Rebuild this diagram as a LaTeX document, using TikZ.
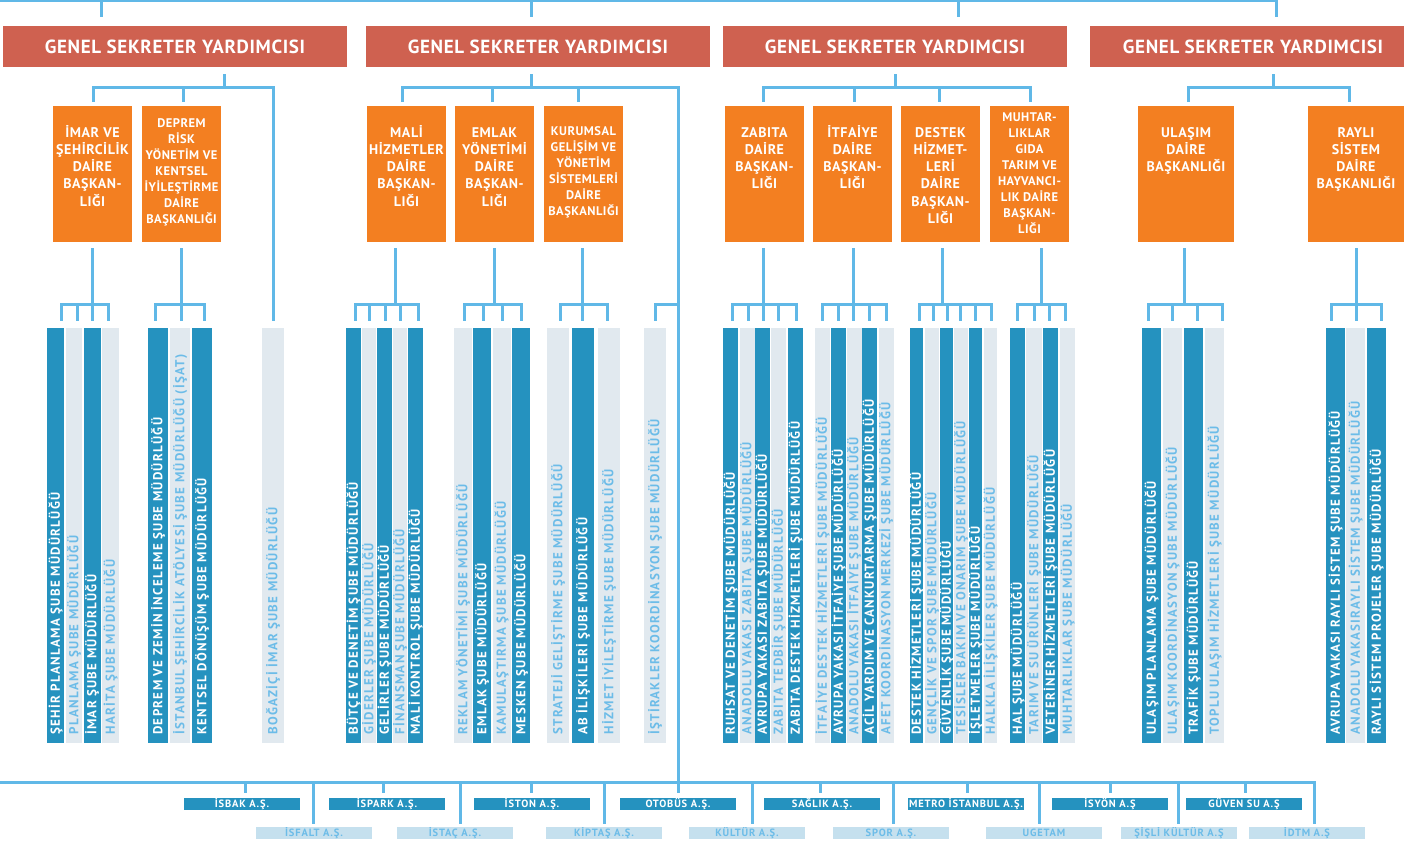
\documentclass[tikz,border=0pt]{standalone}
\usepackage{fontspec}
\setmainfont{PT Sans}
\newfontfamily\titlefam[LetterSpace=3.5]{PT Sans}
\newfontfamily\boxfam[LetterSpace=4]{PT Sans}
\newfontfamily\barfam[LetterSpace=10]{PT Sans}
\newfontfamily\cofam[LetterSpace=8]{PT Sans}
\definecolor{redc}{RGB}{207,97,80}
\definecolor{orc}{RGB}{243,127,33}
\definecolor{dkc}{RGB}{37,146,191}
\definecolor{ltc}{RGB}{225,233,239}
\definecolor{lttext}{RGB}{108,188,232}
\definecolor{lineblue}{RGB}{96,184,231}
\definecolor{lcoc}{RGB}{197,224,238}
\tikzset{
  conn/.style={draw=lineblue, line width=3pt},
  redbox/.style={fill=redc, text=white, minimum height=41pt, inner sep=0pt,
    font=\titlefam\bfseries\fontsize{19}{22}\selectfont},
  orbox/.style={fill=orc, minimum height=136pt, inner sep=0pt},
  ortext/.style={anchor=north, align=center, text=white, inner sep=0pt,
    font=\boxfam\bfseries\fontsize{14}{17.3}\selectfont},
  ortextsm/.style={ortext, font=\boxfam\bfseries\fontsize{12.5}{16}\selectfont},
  barbase/.style={rotate=90, inner xsep=8pt, inner ysep=0pt, text width=398.7pt,
    align=left, text height=9.5pt, text depth=1pt,
    font=\barfam\bfseries\fontsize{13}{15}\selectfont},
  dbar/.style={barbase, fill=dkc, text=white},
  lbar/.style={barbase, fill=ltc, text=lttext},
  cobase/.style={minimum width=116pt, minimum height=12pt, inner sep=0pt,
    text height=7.3pt, text depth=0pt, font=\cofam\bfseries\fontsize{10.5}{12}\selectfont},
  dco/.style={cobase, fill=dkc, text=white},
  lco/.style={cobase, fill=lcoc, text=lttext},
}
\newcommand\barnode[5]{\node[#1, minimum height=#4pt] (#2) at (#3,535.35) {#5};}
% #1 parent, #2 junction, #3 child/x list, #4 gap at parent, #5 gap at child, #6 child anchor
\newcommand\subtree[6]{%
  \draw[conn, shorten <=#4] (#1.south -| #2) -- (#2);
  \foreach \k/\x in {#3} {\draw[conn, shorten >=#5] (#2) -| (\k.#6 -| \x,0);}
}
\begin{document}
\begin{tikzpicture}[x=1pt,y=-1pt]
\useasboundingbox[fill=white] (0,0) rectangle (1408,842);

% Genel sekreter yardimcisi
\node[redbox, minimum width=344pt] (r1) at (175,46.5) {GENEL SEKRETER YARDIMCISI};
\node[redbox, minimum width=344pt] (r2) at (538,46.5) {GENEL SEKRETER YARDIMCISI};
\node[redbox, minimum width=344pt] (r3) at (895,46.5) {GENEL SEKRETER YARDIMCISI};
\node[redbox, minimum width=314pt] (r4) at (1247,46.5) {\hspace*{12pt}GENEL SEKRETER YARDIMCISI};

% Daire baskanliklari
\node[orbox, minimum width=79pt] (o1) at (92.5,174) {};
\node[orbox, minimum width=79pt] (o2) at (181.5,174) {};
\node[orbox, minimum width=79pt] (o3) at (406.5,174) {};
\node[orbox, minimum width=79pt] (o4) at (494.5,174) {};
\node[orbox, minimum width=79pt] (o5) at (583.5,174) {};
\node[orbox, minimum width=79pt] (o6) at (764.5,174) {};
\node[orbox, minimum width=79pt] (o7) at (852.5,174) {};
\node[orbox, minimum width=79pt] (o8) at (940.5,174) {};
\node[orbox, minimum width=79pt] (o9) at (1029.5,174) {};
\node[orbox, minimum width=96pt] (o10) at (1186,174) {};
\node[orbox, minimum width=96pt] (o11) at (1356,174) {};

\node[ortext] (t1) at (92.5,124.8) {\vphantom{İ}İMAR VE\\ŞEHİRCİLİK\\DAİRE\\BAŞKAN-\\LIĞI};
\node[ortextsm] (t2) at (181.5,117) {\vphantom{İ}DEPREM\\RİSK\\YÖNETİM VE\\KENTSEL\\İYİLEŞTİRME\\DAİRE\\BAŞKANLIĞI};
\node[ortext] (t3) at (406.5,124.8) {\vphantom{İ}MALİ\\HİZMETLER\\DAİRE\\BAŞKAN-\\LIĞI};
\node[ortext] (t4) at (494.5,124.8) {\vphantom{İ}EMLAK\\YÖNETİMİ\\DAİRE\\BAŞKAN-\\LIĞI};
\node[ortextsm] (t5) at (583.5,125) {\vphantom{İ}KURUMSAL\\GELİŞİM VE\\YÖNETİM\\SİSTEMLERİ\\DAİRE\\BAŞKANLIĞI};
\node[ortext] (t6) at (764.5,124.8) {\vphantom{İ}ZABITA\\DAİRE\\BAŞKAN-\\LIĞI};
\node[ortext] (t7) at (852.5,124.8) {\vphantom{İ}İTFAİYE\\DAİRE\\BAŞKAN-\\LIĞI};
\node[ortext] (t8) at (940.5,124.8) {\vphantom{İ}DESTEK\\HİZMET-\\LERİ\\DAİRE\\BAŞKAN-\\LIĞI};
\node[ortextsm] (t9) at (1029.5,111) {\vphantom{İ}MUHTAR-\\LIKLAR\\GIDA\\TARIM VE\\HAYVANCI-\\LIK DAİRE\\BAŞKAN-\\LIĞI};
\node[ortext] (t10) at (1186,124.8) {\vphantom{İ}ULAŞIM\\DAİRE\\BAŞKANLIĞI};
\node[ortext] (t11) at (1356,124.8) {\vphantom{İ}RAYLI\\SİSTEM\\DAİRE\\BAŞKANLIĞI};

% Sube mudurlukleri
\barnode{dbar}{a1}{55.5}{17}{ŞEHİR PLANLAMA ŞUBE MÜDÜRLÜĞÜ}
\barnode{lbar}{a2}{74}{16}{PLANLAMA ŞUBE MÜDÜRLÜĞÜ}
\barnode{dbar}{a3}{92}{17}{İMAR ŞUBE MÜDÜRLÜĞÜ}
\barnode{lbar}{a4}{110.5}{17}{HARİTA ŞUBE MÜDÜRLÜĞÜ}
\barnode{dbar}{d1}{158}{20}{DEPREM VE ZEMİN İNCELEME ŞUBE MÜDÜRLÜĞÜ}
\barnode{lbar}{d2}{180}{20}{İSTANBUL ŞEHİRCİLİK ATÖLYESİ ŞUBE MÜDÜRLÜĞÜ (İŞAT)}
\barnode{dbar}{d3}{202}{20}{KENTSEL DÖNÜŞÜM ŞUBE MÜDÜRLÜĞÜ}
\barnode{lbar}{bog}{273}{22}{BOĞAZİÇİ İMAR ŞUBE MÜDÜRLÜĞÜ}

\barnode{dbar}{m1}{353.5}{14.6}{BÜTÇE VE DENETİM ŞUBE MÜDÜRLÜĞÜ}
\barnode{lbar}{m2}{369}{14.6}{GİDERLER ŞUBE MÜDÜRLÜĞÜ}
\barnode{dbar}{m3}{384.5}{14.6}{GELİRLER ŞUBE MÜDÜRLÜĞÜ}
\barnode{lbar}{m4}{400}{14.6}{FİNANSMAN ŞUBE MÜDÜRLÜĞÜ}
\barnode{dbar}{m5}{415.5}{14.6}{MALİ KONTROL ŞUBE MÜDÜRLÜĞÜ}
\barnode{lbar}{e1}{463}{18}{REKLAM YÖNETİMİ ŞUBE MÜDÜRLÜĞÜ}
\barnode{dbar}{e2}{482}{18}{EMLAK ŞUBE MÜDÜRLÜĞÜ}
\barnode{lbar}{e3}{501.5}{18}{KAMULAŞTIRMA ŞUBE MÜDÜRLÜĞÜ}
\barnode{dbar}{e4}{521}{18}{MESKEN ŞUBE MÜDÜRLÜĞÜ}
\barnode{lbar}{k1}{558}{22}{STRATEJİ GELİŞTİRME ŞUBE MÜDÜRLÜĞÜ}
\barnode{dbar}{k2}{583}{22}{AB İLİŞKİLERİ ŞUBE MÜDÜRLÜĞÜ}
\barnode{lbar}{k3}{609}{22}{HİZMET İYİLEŞTİRME ŞUBE MÜDÜRLÜĞÜ}
\barnode{lbar}{ist}{655}{22}{İŞTİRAKLER KOORDİNASYON ŞUBE MÜDÜRLÜĞÜ}

\barnode{dbar}{z1}{730.5}{15}{RUHSAT VE DENETİM ŞUBE MÜDÜRLÜĞÜ}
\barnode{lbar}{z2}{747}{15}{ANADOLU YAKASI ZABITA ŞUBE MÜDÜRLÜĞÜ}
\barnode{dbar}{z3}{762.5}{15}{AVRUPA YAKASI ZABITA ŞUBE MÜDÜRLÜĞÜ}
\barnode{lbar}{z4}{778.5}{15}{ZABITA TEDBİR ŞUBE MÜDÜRLÜĞÜ}
\barnode{dbar}{z5}{795.5}{15}{ZABITA DESTEK HİZMETLERİ ŞUBE MÜDÜRLÜĞÜ}
\barnode{lbar}{f1}{822.5}{15}{İTFAİYE DESTEK HİZMETLERİ ŞUBE MÜDÜRLÜĞÜ}
\barnode{dbar}{f2}{838.5}{15}{AVRUPA YAKASI İTFAİYE ŞUBE MÜDÜRLÜĞÜ}
\barnode{lbar}{f3}{854}{15}{ANADOLU YAKASI İTFAİYE ŞUBE MÜDÜRLÜĞÜ}
\barnode{dbar}{f4}{869.5}{15}{ACİL YARDIM VE CANKURTARMA ŞUBE MÜDÜRLÜĞÜ}
\barnode{lbar}{f5}{886}{15}{AFET KOORDİNASYON MERKEZİ ŞUBE MÜDÜRLÜĞÜ}
\barnode{dbar}{s1}{916.5}{13.5}{DESTEK HİZMETLERİ ŞUBE MÜDÜRLÜĞÜ}
\barnode{lbar}{s2}{932}{13.5}{GENÇLİK VE SPOR ŞUBE MÜDÜRLÜĞÜ}
\barnode{dbar}{s3}{946.5}{13.5}{GÜVENLİK ŞUBE MÜDÜRLÜĞÜ}
\barnode{lbar}{s4}{961}{13.5}{TESİSLER BAKIM VE ONARIM ŞUBE MÜDÜRLÜĞÜ}
\barnode{dbar}{s5}{975.5}{13.5}{İŞLETMELER ŞUBE MÜDÜRLÜĞÜ}
\barnode{lbar}{s6}{990.5}{13.5}{HALKLA İLİŞKİLER ŞUBE MÜDÜRLÜĞÜ}
\barnode{dbar}{h1}{1017.5}{15.5}{HAL ŞUBE MÜDÜRLÜĞÜ}
\barnode{lbar}{h2}{1034}{15.5}{TARIM VE SU ÜRÜNLERİ ŞUBE MÜDÜRLÜĞÜ}
\barnode{dbar}{h3}{1050.5}{15.5}{VETERİNER HİZMETLERİ ŞUBE MÜDÜRLÜĞÜ}
\barnode{lbar}{h4}{1067.5}{15.5}{MUHTARLIKLAR ŞUBE MÜDÜRLÜĞÜ}

\barnode{dbar}{u1}{1151.5}{19}{ULAŞIM PLANLAMA ŞUBE MÜDÜRLÜĞÜ}
\barnode{lbar}{u2}{1172.5}{19}{ULAŞIM KOORDİNASYON ŞUBE MÜDÜRLÜĞÜ}
\barnode{dbar}{u3}{1193.5}{19}{TRAFİK ŞUBE MÜDÜRLÜĞÜ}
\barnode{lbar}{u4}{1214.5}{19}{TOPLU ULAŞIM HİZMETLERİ ŞUBE MÜDÜRLÜĞÜ}
\barnode{dbar}{y1}{1335.5}{19}{AVRUPA YAKASI RAYLI SİSTEM ŞUBE MÜDÜRLÜĞÜ}
\barnode{lbar}{y2}{1355.5}{19}{ANADOLU YAKASIRAYLI SİSTEM ŞUBE MÜDÜRLÜĞÜ}
\barnode{dbar}{y3}{1376.5}{19}{RAYLI SİSTEM PROJELER ŞUBE MÜDÜRLÜĞÜ}

% Sirketler
\node[dco] (isbak) at (242,804) {İSBAK A.Ş.};
\node[dco] (ispark) at (387,804) {İSPARK A.Ş.};
\node[dco] (iston) at (532,804) {İSTON A.Ş.};
\node[dco] (otobus) at (678,804) {OTOBÜS A.Ş.};
\node[dco] (saglik) at (822,804) {SAĞLIK A.Ş.};
\node[dco] (metro) at (966,804) {METRO İSTANBUL A.Ş.};
\node[dco] (isyon) at (1110,804) {İSYÖN A.Ş};
\node[dco] (guven) at (1244,804) {GÜVEN SU A.Ş};
\node[lco] (isfalt) at (314,833) {İSFALT A.Ş.};
\node[lco] (istac) at (455,833) {İSTAÇ A.Ş.};
\node[lco] (kiptas) at (604,833) {KİPTAŞ A.Ş.};
\node[lco] (kultur) at (747,833) {KÜLTÜR A.Ş.};
\node[lco] (spor) at (891,833) {SPOR A.Ş.};
\node[lco] (ugetam) at (1044,833) {UGETAM};
\node[lco] (sisli) at (1179,833) {ŞİŞLİ KÜLTÜR A.Ş};
\node[lco] (idtm) at (1307,833) {İDTM A.Ş};

% Junction coordinates
\coordinate (topL) at (0,1);
\coordinate (botL) at (0,782);
\coordinate (b1) at (224,88);
\coordinate (b2) at (531,88);
\coordinate (b3) at (895,88);
\coordinate (b4) at (1273,88);
\coordinate (c1) at (92,305);
\coordinate (c2) at (181,305);
\coordinate (c3) at (395,305);
\coordinate (c4) at (494,305);
\coordinate (c5) at (582,305);
\coordinate (c6) at (763,305);
\coordinate (c7) at (853,305);
\coordinate (c8) at (942,305);
\coordinate (c9) at (1041,305);
\coordinate (c10) at (1184,305);
\coordinate (c11) at (1356,305);
\coordinate (c12) at (678,305);

% Connectors
\draw[conn, shorten >=9pt] (topL) -| (r1.north -| 101,0);
\draw[conn, shorten >=9pt] (topL) -| (r2.north -| 531,0);
\draw[conn, shorten >=9pt] (topL) -| (r3.north -| 958,0);
\draw[conn, shorten >=9pt] (topL) -| (r4.north -| 1276,0);

\subtree{r1}{b1}{o1/93,o2/183}{7pt}{4pt}{north}
\draw[conn, shorten >=7pt] (b1) -| (bog.east);
\subtree{r2}{b2}{o3/402,o4/492,o5/578}{7pt}{4pt}{north}
\draw[conn, shorten >=5pt] (b2) -| (otobus.north);
\draw[conn, shorten >=7pt] (c12) -| (ist.east);
\subtree{r3}{b3}{o6/763,o7/854,o8/939,o9/1030}{7pt}{4pt}{north}
\subtree{r4}{b4}{o10/1188,o11/1349}{7pt}{4pt}{north}

\subtree{o1}{c1}{a1/61,a2/77,a3/92,a4/108}{6pt}{7pt}{east}
\subtree{o2}{c2}{d1/155,d2/181,d3/204}{6pt}{7pt}{east}
\subtree{o3}{c3}{m1/355,m2/369,m3/385,m4/400,m5/418}{6pt}{7pt}{east}
\subtree{o4}{c4}{e1/464,e2/483,e3/502,e4/521}{6pt}{7pt}{east}
\subtree{o5}{c5}{k1/560,k2/582,k3/607}{6pt}{7pt}{east}
\subtree{o6}{c6}{z1/732,z2/748,z3/763,z4/778,z5/796}{6pt}{7pt}{east}
\subtree{o7}{c7}{f1/822,f2/838,f3/853,f4/869,f5/886}{6pt}{7pt}{east}
\subtree{o8}{c8}{s1/919,s2/933,s3/947,s4/960,s5/975,s6/991}{6pt}{7pt}{east}
\subtree{o9}{c9}{h1/1017,h2/1034,h3/1049,h4/1065}{6pt}{7pt}{east}
\subtree{o10}{c10}{u1/1148,u2/1172,u3/1197,u4/1222}{6pt}{7pt}{east}
\subtree{o11}{c11}{y1/1331,y2/1356,y3/1381}{6pt}{7pt}{east}

\foreach \k/\x in {isbak/245,ispark/383,iston/531,saglik/820,metro/967,isyon/1110,guven/1245}
  {\draw[conn, shorten >=5pt] (botL) -| (\k.north -| \x,0);}
\foreach \k/\x in {isfalt/313,istac/460,kiptas/604,kultur/752,spor/893,ugetam/1039,sisli/1178,idtm/1314}
  {\draw[conn, shorten >=3pt] (botL) -| (\k.north -| \x,0);}
\end{tikzpicture}
\end{document}
